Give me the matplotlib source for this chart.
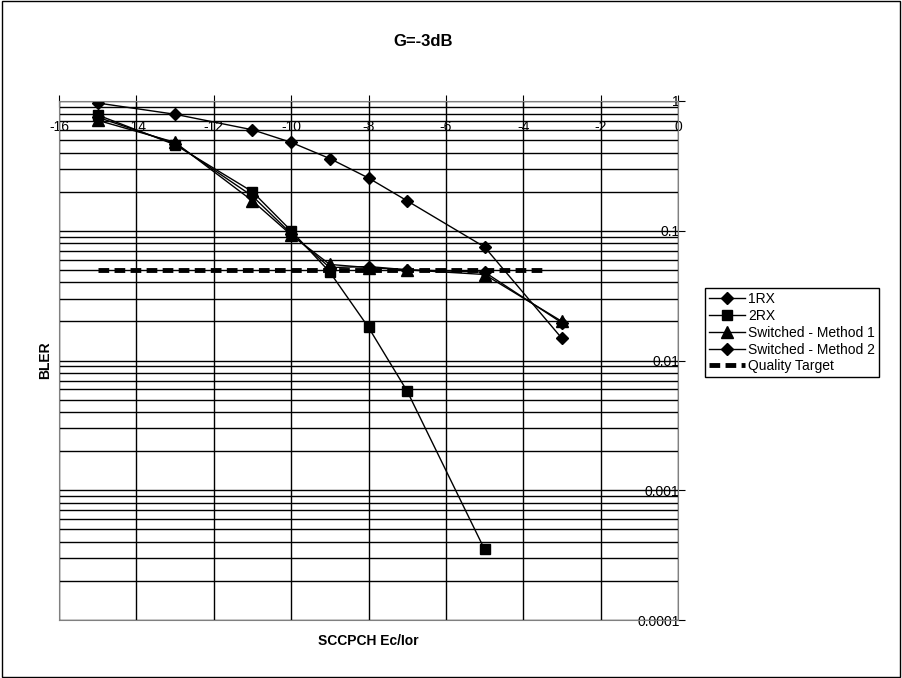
import matplotlib
matplotlib.use("Agg")
import matplotlib.pyplot as plt
import numpy as np
from matplotlib.ticker import LogLocator, FixedLocator, NullFormatter

plt.rcParams["font.family"] = ["Liberation Sans", "DejaVu Sans"]
plt.rcParams["axes.unicode_minus"] = False

x_1rx = [-15, -13, -11, -10, -9, -8, -7, -5, -3]
bler_1rx = [0.965, 0.79, 0.6, 0.48, 0.36, 0.255, 0.17, 0.075, 0.0148]
x_2rx = [-15, -13, -11, -10, -9, -8, -7, -5]
bler_2rx = [0.78, 0.46, 0.2, 0.1, 0.048, 0.018, 0.0058, 0.00035]
x_sw = [-15, -13, -11, -10, -9, -8, -7, -5, -3]
bler_sw1 = [0.71, 0.48, 0.17, 0.093, 0.055, 0.052, 0.05, 0.046, 0.02]
bler_sw2 = [0.75, 0.47, 0.185, 0.095, 0.052, 0.053, 0.05, 0.048, 0.0195]
x_target = [-15, -3.5]
bler_target = [0.05, 0.05]

fig = plt.figure(figsize=(9.02, 6.78), dpi=100)
fig.patches.append(plt.Rectangle((0.002, 0.002), 0.996, 0.996, transform=fig.transFigure,
                                 fill=False, edgecolor="black", linewidth=1))
ax = fig.add_axes([59 / 902, 1 - 620 / 678, 619 / 902, 519 / 678])

ax.plot(x_1rx, bler_1rx, "k-", marker="D", markersize=6, linewidth=1, label="1RX")
ax.plot(x_2rx, bler_2rx, "k-", marker="s", markersize=7, linewidth=1, label="2RX")
ax.plot(x_sw, bler_sw1, "k-", marker="^", markersize=8, linewidth=1, label="Switched - Method 1")
ax.plot(x_sw, bler_sw2, "k-", marker="D", markersize=6, linewidth=1, label="Switched - Method 2")
ax.plot(x_target, bler_target, "k--", linewidth=3.5, dashes=(2.2, 1.1), label="Quality Target")

ax.set_yscale("log")
ax.set_xlim(-16, 0)
ax.set_ylim(0.0001, 1)
ax.xaxis.set_major_locator(FixedLocator(np.arange(-16, 1, 2)))
ax.yaxis.set_minor_locator(LogLocator(base=10, subs=np.arange(2, 10)))
ax.yaxis.set_minor_formatter(NullFormatter())
ax.set_yticks([1, 0.1, 0.01, 0.001, 0.0001])
ax.set_yticklabels(["1", "0.1", "0.01", "0.001", "0.0001"])
ax.grid(True, which="major", color="black", linewidth=1)
ax.grid(True, which="minor", axis="y", color="black", linewidth=1)

ax.xaxis.tick_top()
ax.tick_params(axis="x", direction="inout", length=8, pad=-18, labelsize=10)
ax.yaxis.tick_right()
ax.tick_params(axis="y", which="major", direction="out", length=5, pad=-4, labelsize=10)
ax.tick_params(axis="y", which="minor", length=0)
for lab in ax.get_yticklabels():
    lab.set_ha("right")
for lab in ax.get_xticklabels():
    lab.set_va("top")
for s in ax.spines.values():
    s.set_color("gray")

fig.text(423 / 902, 1 - 42 / 678, "G=-3dB", ha="center", va="center", fontsize=12, fontweight="bold")
fig.text(45 / 902, 1 - 360 / 678, "BLER", ha="center", va="center", rotation=90,
         fontsize=10, fontweight="bold")
fig.text(368 / 902, 1 - 641 / 678, "SCCPCH Ec/Ior", ha="center", va="center",
         fontsize=10, fontweight="bold")

fig.legend(loc="upper left", bbox_to_anchor=(705 / 902, 1 - 288 / 678), fontsize=10,
           frameon=True, fancybox=False, edgecolor="black", framealpha=1,
           handlelength=2.6, borderpad=0.3, labelspacing=0.2, handletextpad=0.2,
           borderaxespad=0)

fig.savefig("out.png", dpi=100)
